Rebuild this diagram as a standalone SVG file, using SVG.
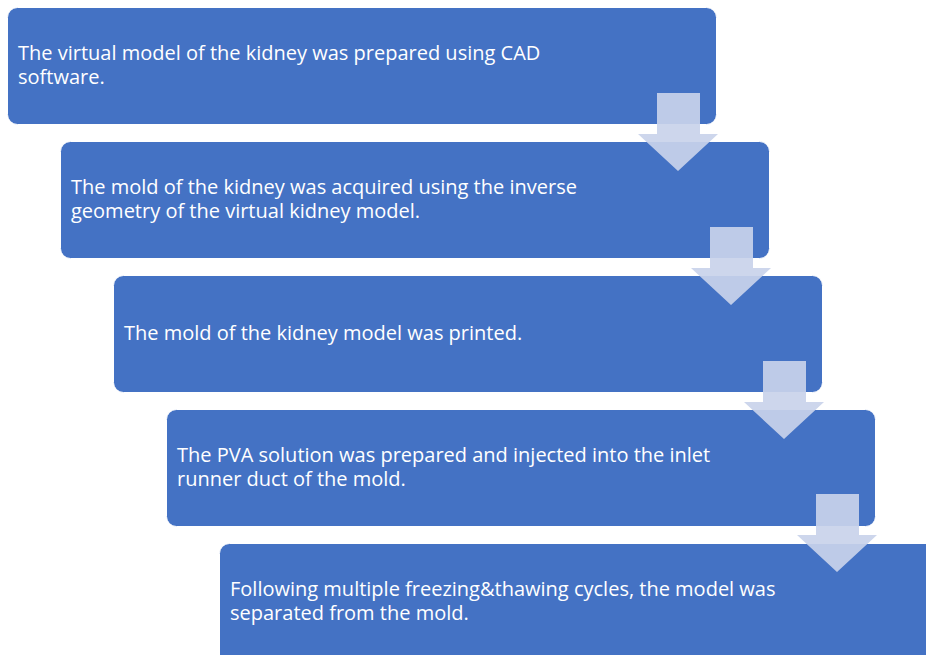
<svg xmlns="http://www.w3.org/2000/svg" width="926" height="655" viewBox="0 0 926 655">
<style>
.box{fill:#4472c4;stroke:#ffffff;stroke-width:1}
.t{font-family:"Open Sans","Liberation Sans",sans-serif;font-size:20px;fill:#ffffff}
.arr{fill:#c9d2ea;fill-opacity:0.92}
</style>
<rect width="926" height="655" fill="#ffffff"/>
<g id="step1"><rect class="box" x="7.5" y="7.5" width="709" height="117" rx="10"/>
<text class="t" x="18" y="60">The virtual model of the kidney was prepared using CAD</text>
<text class="t" x="18" y="84">software.</text></g>
<g id="step2"><rect class="box" x="60.5" y="141.5" width="709" height="117" rx="10"/>
<text class="t" x="71" y="194">The mold of the kidney was acquired using the inverse</text>
<text class="t" x="71" y="218">geometry of the virtual kidney model.</text></g>
<g id="step3"><rect class="box" x="113.5" y="275.5" width="709" height="117" rx="10"/>
<text class="t" x="124" y="340">The mold of the kidney model was printed.</text></g>
<g id="step4"><rect class="box" x="166.5" y="409.5" width="709" height="117" rx="10"/>
<text class="t" x="177" y="462">The PVA solution was prepared and injected into the inlet</text>
<text class="t" x="177" y="486">runner duct of the mold.</text></g>
<g id="step5"><rect class="box" x="219.5" y="543.5" width="720" height="130" rx="10"/>
<text class="t" x="230" y="596">Following multiple freezing&amp;thawing cycles, the model was</text>
<text class="t" x="230" y="620">separated from the mold.</text></g>
<g id="connectors">
<polygon class="arr" points="657,93 700,93 700,134 718,134 678,171 638,134 657,134"/>
<polygon class="arr" points="710,227 753,227 753,268 771,268 731,305 691,268 710,268"/>
<polygon class="arr" points="763,361 806,361 806,402 824,402 784,439 744,402 763,402"/>
<polygon class="arr" points="816,494 859,494 859,535 877,535 837,572 797,535 816,535"/>
</g>
</svg>
